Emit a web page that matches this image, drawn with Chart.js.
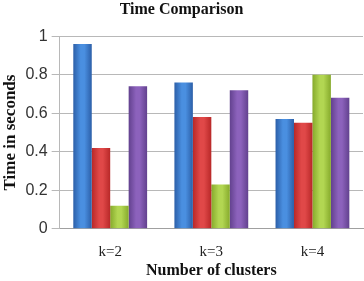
<!DOCTYPE html>
<html>
<head>
<meta charset="utf-8">
<script src="https://cdn.jsdelivr.net/npm/chart.js@4/dist/chart.umd.min.js"></script>
<style>
  html, body { margin: 0; padding: 0; background: #fff; }
  #wrap { position: relative; width: 364px; height: 281px; }
</style>
</head>
<body>
<div id="wrap"><canvas id="chart"></canvas></div>
<script>
const categories = ["k=2", "k=3", "k=4"];
const seriesA = [0.96, 0.76, 0.57];
const seriesB = [0.42, 0.58, 0.55];
const seriesC = [0.12, 0.23, 0.80];
const seriesD = [0.74, 0.72, 0.68];
const yTicks = [0, 0.2, 0.4, 0.6, 0.8, 1];

const CAT_PCT = 0.73;
const SERIF = "'Liberation Serif', 'DejaVu Serif', serif";

// edge / center colours for the shaded bars
const shades = [
  ["#2c5fa8", "#4a8fe0"],
  ["#b82828", "#e04848"],
  ["#86aa2c", "#b2d652"],
  ["#62418e", "#8c62bc"],
];

function barFill(c) {
  const pair = shades[c.datasetIndex];
  const chart = c.chart;
  const xs = chart.scales.x;
  if (c.type !== 'data' || !xs || !chart.chartArea) return pair[1];
  const catW = xs.width / categories.length;
  const groupW = catW * CAT_PCT;
  const barW = groupW / 4;
  const left = xs.getPixelForValue(c.dataIndex) - groupW / 2 + c.datasetIndex * barW;
  const g = chart.ctx.createLinearGradient(left, 0, left + barW, 0);
  g.addColorStop(0, pair[0]);
  g.addColorStop(0.4, pair[1]);
  g.addColorStop(0.6, pair[1]);
  g.addColorStop(1, pair[0]);
  return g;
}

function makeSet(values) {
  return {
    data: values,
    backgroundColor: barFill,
    borderWidth: 0,
    barPercentage: 1,
    categoryPercentage: CAT_PCT,
  };
}

new Chart(document.getElementById("chart"), {
  type: "bar",
  data: {
    labels: categories,
    datasets: [makeSet(seriesA), makeSet(seriesB), makeSet(seriesC), makeSet(seriesD)],
  },
  options: {
    responsive: true,
    maintainAspectRatio: false,
    animation: false,
    layout: { padding: { left: 0, right: 1, top: 0, bottom: 1 } },
    plugins: {
      legend: { display: false },
      tooltip: { enabled: false },
      title: {
        display: true,
        text: "Time Comparison",
        color: "#111",
        font: { family: SERIF, size: 16, weight: "bold" },
        padding: { top: 0, bottom: 17 },
      },
    },
    scales: {
      x: {
        grid: { display: false },
        border: { display: true, color: "#a0a0a0" },
        ticks: {
          color: "#222",
          font: { family: SERIF, size: 15 },
          padding: 6,
        },
        title: {
          display: true,
          text: "Number of clusters",
          color: "#111",
          font: { family: SERIF, size: 16, weight: "bold" },
          padding: { top: -6, bottom: 0 },
        },
      },
      y: {
        min: 0,
        max: 1,
        afterBuildTicks: axis => { axis.ticks = yTicks.map(v => ({ value: v })); },
        grid: { color: "#b8b8b8", tickLength: 8 },
        border: { display: true, color: "#b8b8b8" },
        ticks: {
          color: "#333",
          font: { family: "'Liberation Sans', sans-serif", size: 16 },
          padding: 4,
          callback: v => String(v),
        },
        title: {
          display: true,
          text: "Time in seconds",
          color: "#111",
          font: { family: SERIF, size: 17, weight: "bold" },
          padding: { top: 0, bottom: 1 },
        },
      },
    },
  },
});
</script>
</body>
</html>
